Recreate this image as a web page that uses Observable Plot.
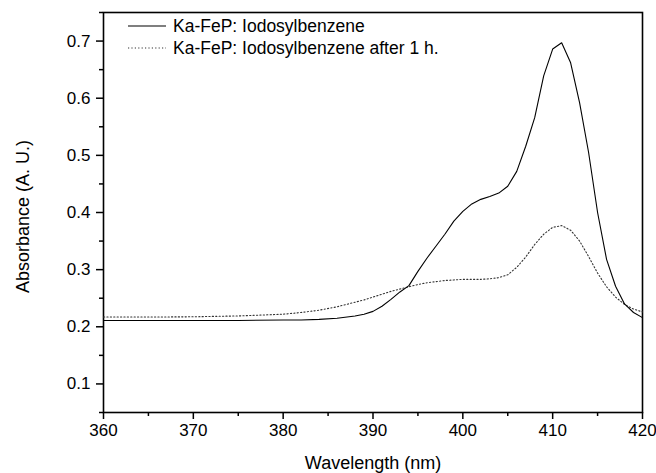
<!DOCTYPE html>
<html>
<head>
<meta charset="utf-8">
<script src="https://cdn.jsdelivr.net/npm/d3@7"></script>
<script src="https://cdn.jsdelivr.net/npm/@observablehq/plot@0.6"></script>
<style>
  html, body { margin: 0; padding: 0; background: white; }
</style>
</head>
<body>
<div id="chart"></div>
<script>
// Wavelength (nm)
const wavelength = [360,365,370,375,380,382,384,386,388,389,390,391,392,393,394,395,396,397,398,399,400,401,402,403,404,405,406,407,408,409,410,411,412,413,414,415,416,417,418,419,420];
// Ka-FeP: Iodosylbenzene
const fresh = [0.211,0.211,0.211,0.211,0.212,0.212,0.213,0.215,0.219,0.222,0.227,0.236,0.248,0.261,0.272,0.297,0.320,0.341,0.362,0.385,0.402,0.415,0.423,0.428,0.434,0.446,0.472,0.516,0.566,0.639,0.686,0.697,0.662,0.592,0.505,0.400,0.318,0.271,0.240,0.225,0.216];
// Ka-FeP: Iodosylbenzene after 1 h.
const after1h = [0.217,0.217,0.2175,0.219,0.222,0.225,0.229,0.235,0.243,0.247,0.252,0.257,0.262,0.266,0.270,0.274,0.277,0.279,0.281,0.282,0.283,0.283,0.283,0.284,0.286,0.291,0.304,0.322,0.344,0.362,0.374,0.377,0.369,0.350,0.323,0.294,0.270,0.252,0.239,0.231,0.226];

const seriesNames = ["Ka-FeP: Iodosylbenzene", "Ka-FeP: Iodosylbenzene after 1 h."];
const xMajor = [360,370,380,390,400,410,420];
const xMinor = [365,375,385,395,405,415];
const yMajor = [0.1,0.2,0.3,0.4,0.5,0.6,0.7];
const yMinor = [0.05,0.15,0.25,0.35,0.45,0.55,0.65,0.75];
const xTitle = "Wavelength (nm)";
const yTitle = "Absorbance (A. U.)";

const freshData = wavelength.map((w, i) => ({w, a: fresh[i]}));
const afterData = wavelength.map((w, i) => ({w, a: after1h[i]}));

const dashes = [null, "1.2 2.2"];

function legendMark(index, scales, values, dimensions) {
  const g = d3.create("svg:g").attr("text-anchor", "start");
  const x0 = dimensions.marginLeft + 25;
  const x1 = dimensions.marginLeft + 63;
  seriesNames.forEach((name, i) => {
    const y = dimensions.marginTop + 14 + i * 22;
    g.append("line")
      .attr("x1", x0).attr("x2", x1).attr("y1", y).attr("y2", y)
      .attr("stroke", i === 0 ? "black" : "#333")
      .attr("stroke-width", 1.1)
      .attr("stroke-dasharray", dashes[i]);
    g.append("text")
      .attr("x", x1 + 7).attr("y", y)
      .attr("dy", "0.35em")
      .attr("text-anchor", "start")
      .attr("font-size", 17.5)
      .attr("fill", "black")
      .text(name);
  });
  return g.node();
}

const chart = Plot.plot({
  width: 656,
  height: 473,
  marginLeft: 103,
  marginRight: 14,
  marginTop: 12,
  marginBottom: 61,
  style: {fontFamily: "'Liberation Sans', Arial, sans-serif", fontSize: "16px", color: "black", background: "white"},
  x: {domain: [360, 420]},
  y: {domain: [0.05, 0.75]},
  marks: [
    Plot.axisX(xMajor, {tickSize: 7, tickPadding: 4, fontSize: 17, strokeWidth: 1.5, tickFormat: d => String(d), label: null}),
    Plot.axisX(xMinor, {tickSize: 4, strokeWidth: 1.5, text: null, label: null}),
    Plot.axisY(yMajor, {tickSize: 7, tickPadding: 6, fontSize: 17, strokeWidth: 1.5, tickFormat: d3.format(".1f"), label: null}),
    Plot.axisY(yMinor, {tickSize: 4, strokeWidth: 1.5, text: null, label: null}),
    Plot.frame({stroke: "black", strokeWidth: 1.6}),
    Plot.line(afterData, {x: "w", y: "a", stroke: "#333", strokeWidth: 1.1, strokeDasharray: dashes[1]}),
    Plot.line(freshData, {x: "w", y: "a", stroke: "black", strokeWidth: 1.1}),
    Plot.text([xTitle], {text: d => d, frameAnchor: "bottom", dy: 56, lineAnchor: "bottom", textAnchor: "middle", fontSize: 18}),
    Plot.text([yTitle], {text: d => d, frameAnchor: "left", dx: -75, dy: 4, rotate: -90, lineAnchor: "bottom", textAnchor: "middle", fontSize: 18}),
    legendMark
  ]
});
document.getElementById("chart").appendChild(chart);
</script>
</body>
</html>
